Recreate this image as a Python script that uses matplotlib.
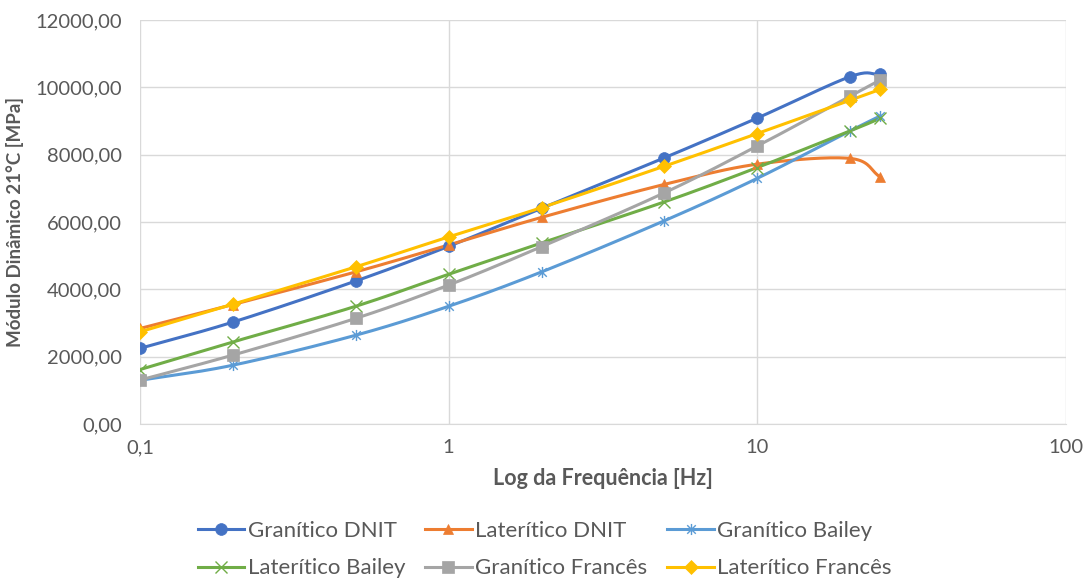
import numpy as np
import matplotlib
matplotlib.use('Agg')
import matplotlib.pyplot as plt
from matplotlib.path import Path
from matplotlib.ticker import FuncFormatter, FixedLocator

plt.rcParams['font.family'] = ['Lato', 'DejaVu Sans']

freq = [0.1, 0.2, 0.5, 1, 2, 5, 10, 20, 25]
granitico_dnit = [2250, 3030, 4250, 5280, 6410, 7910, 9090, 10320, 10390]
lateritico_dnit = [2840, 3550, 4520, 5320, 6140, 7120, 7720, 7890, 7340]
granitico_bailey = [1300, 1750, 2640, 3500, 4520, 6040, 7300, 8710, 9150]
lateritico_bailey = [1620, 2440, 3500, 4450, 5380, 6600, 7620, 8710, 9080]
granitico_frances = [1310, 2050, 3140, 4130, 5270, 6870, 8260, 9740, 10220]
lateritico_frances = [2740, 3560, 4670, 5560, 6430, 7660, 8630, 9620, 9940]

# Excel style "star": an x with a vertical stroke
star = Path([(-1, -1), (1, 1), (-1, 1), (1, -1), (0, -1.3), (0, 1.3)],
            [Path.MOVETO, Path.LINETO, Path.MOVETO, Path.LINETO, Path.MOVETO, Path.LINETO])

series = [
    ('Granítico DNIT', granitico_dnit, '#4472C4', 'o'),
    ('Laterítico DNIT', lateritico_dnit, '#ED7D31', '^'),
    ('Granítico Bailey', granitico_bailey, '#5B9BD5', star),
    ('Laterítico Bailey', lateritico_bailey, '#70AD47', 'x'),
    ('Granítico Francês', granitico_frances, '#A5A5A5', 's'),
    ('Laterítico Francês', lateritico_frances, '#FFC000', 'D'),
]


def smooth(x, y, n=20):
    # Catmull-Rom curve in log-x space, like Excel "smoothed line"
    lx = np.log10(np.asarray(x, float))
    y = np.asarray(y, float)
    px = np.concatenate([[2 * lx[0] - lx[1]], lx, [2 * lx[-1] - lx[-2]]])
    py = np.concatenate([[2 * y[0] - y[1]], y, [2 * y[-1] - y[-2]]])
    ox, oy = [], []
    t = np.linspace(0, 1, n)
    for i in range(1, len(px) - 2):
        for arr, out in ((px, ox), (py, oy)):
            p0, p1, p2, p3 = arr[i - 1], arr[i], arr[i + 1], arr[i + 2]
            out.extend(0.5 * ((2 * p1) + (-p0 + p2) * t
                              + (2 * p0 - 5 * p1 + 4 * p2 - p3) * t ** 2
                              + (-p0 + 3 * p1 - 3 * p2 + p3) * t ** 3))
    return 10 ** np.array(ox), np.array(oy)


fig = plt.figure(figsize=(10.85, 5.81), dpi=100)
ax = fig.add_axes([0.129, 0.270, 0.8535, 0.6955])

handles = []
for name, vals, color, mk in series:
    sx, sy = smooth(freq, vals)
    ax.plot(sx, sy, color=color, lw=2.2, zorder=3)
    thin = not isinstance(mk, str) or mk == 'x'
    ms = 8.5 if mk in ('o', 's') else (8 if thin else 7.5)
    ax.plot(freq, vals, ls='none', marker=mk, ms=ms, color=color,
            mfc=color, mew=1.0 if thin else 0.5, zorder=4)
    h, = ax.plot([], [], color=color, lw=2.2, marker=mk, ms=ms, mew=1.0 if thin else 0.5)
    h.set_label(name)
    handles.append(h)

ax.set_xscale('log')
ax.set_xlim(0.1, 100)
ax.set_ylim(0, 12000)
ax.xaxis.set_major_locator(FixedLocator([0.1, 1, 10, 100]))
ax.xaxis.set_minor_locator(FixedLocator([]))
ax.xaxis.set_major_formatter(FuncFormatter(lambda v, p: ('%g' % v).replace('.', ',')))
ax.set_yticks(np.arange(0, 12001, 2000))
ax.yaxis.set_major_formatter(FuncFormatter(lambda v, p: ('%.2f' % v).replace('.', ',')))
ax.grid(True, color='#d9d9d9', lw=1)
ax.set_axisbelow(True)
for s in ('top', 'right', 'left'):
    ax.spines[s].set_visible(False)
ax.spines['bottom'].set_color('#d9d9d9')
ax.tick_params(length=0, labelsize=14.5, colors='#595959')
ax.tick_params(axis='y', pad=13)
ax.tick_params(axis='x', pad=11)

ax.set_xlabel('Log da Frequência [Hz]', fontsize=15.5, fontweight='bold', color='#595959', labelpad=8)
ax.set_ylabel('Módulo Dinâmico 21°C [MPa]', fontsize=13.5, fontweight='bold', color='#595959', labelpad=8)

# legend fills by column, so interleave to get rows like the reference
order = [0, 3, 1, 4, 2, 5]
fig.legend(handles=[handles[i] for i in order], loc='lower center',
           bbox_to_anchor=(0.502, -0.03), ncol=3,
           frameon=False, fontsize=16, labelcolor='#595959', handlelength=2.1,
           columnspacing=0.9, handletextpad=0.15, labelspacing=0.8)

fig.savefig('out.png', dpi=100)
